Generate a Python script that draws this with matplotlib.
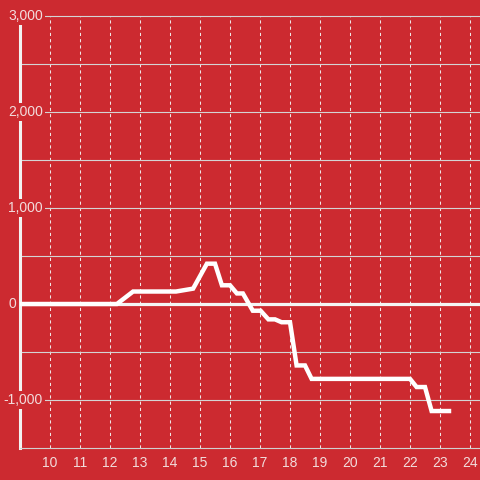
import matplotlib
matplotlib.use("Agg")
import matplotlib.pyplot as plt

# hour of day vs value
hours = [9.0, 12.23, 12.77, 14.2, 14.77, 15.23, 15.5, 15.73, 16.0, 16.23, 16.43,
         16.76, 17.02, 17.28, 17.5, 17.72, 18.0, 18.22, 18.5, 18.72, 22.0, 22.22,
         22.5, 22.72, 23.3]
values = [0, 0, 130, 130, 160, 420, 420, 195, 195, 110, 110,
          -70, -70, -160, -160, -190, -190, -640, -640, -780, -780, -865,
          -865, -1115, -1115]

x_ticks = list(range(10, 25))
y_grid = [-1000, -500, 500, 1000, 1500, 2000, 2500, 3000]
y_labels = {3000: "3,000", 2000: "2,000", 1000: "1,000", 0: "0", -1000: "-1,000"}

BG = "#cc2a30"
TXT = "#f2dcdc"

plt.rcParams['font.family'] = ['Liberation Sans', 'DejaVu Sans']

fig = plt.figure(figsize=(4.8, 4.8), dpi=100, facecolor=BG)
ax = fig.add_axes([20 / 480, 32 / 480, 460 / 480, 432 / 480])
ax.set_facecolor(BG)
ax.set_xlim(9, 9 + 460 / 30)
ax.set_ylim(-1500, 3000)

for s in ["top", "right"]:
    ax.spines[s].set_visible(False)
ax.spines["bottom"].set_color("#d0d0d0")
ax.spines["bottom"].set_linewidth(0.8)
ax.spines["left"].set_color("#f2f2f2")
ax.spines["left"].set_linewidth(2.2)
ax.spines["left"].set_zorder(2)

ax.set_xticks([])
ax.set_yticks([])

# dotted vertical grid + hour labels
for h in x_ticks:
    ax.axvline(h, color="#f0e6e6", lw=0.75, ls=(0, (3, 3)), zorder=1)
    ax.text(h, -1580, str(h), ha="center", va="top",
            fontsize=10, color=TXT, clip_on=False)

for v in y_grid:
    ax.axhline(v, color="#d4d4d4", lw=0.8, zorder=1, clip_on=False)
ax.axhline(0, color="#f4f4f4", lw=2.3, zorder=2)

ax.plot(hours, values, color="white", lw=3.2, solid_joinstyle="miter", zorder=4)

# y labels sit over the axis line with a background box
for v, lab in y_labels.items():
    right_px = 16 if v == 0 else 43
    xh = 9 + (right_px - 20) / 30
    ax.text(xh, v, lab, ha="right", va="center", fontsize=10, color=TXT,
            clip_on=False, zorder=5,
            bbox=dict(facecolor=BG, edgecolor="none", pad=1.5))

fig.savefig("out.png", dpi=100, facecolor=BG)
